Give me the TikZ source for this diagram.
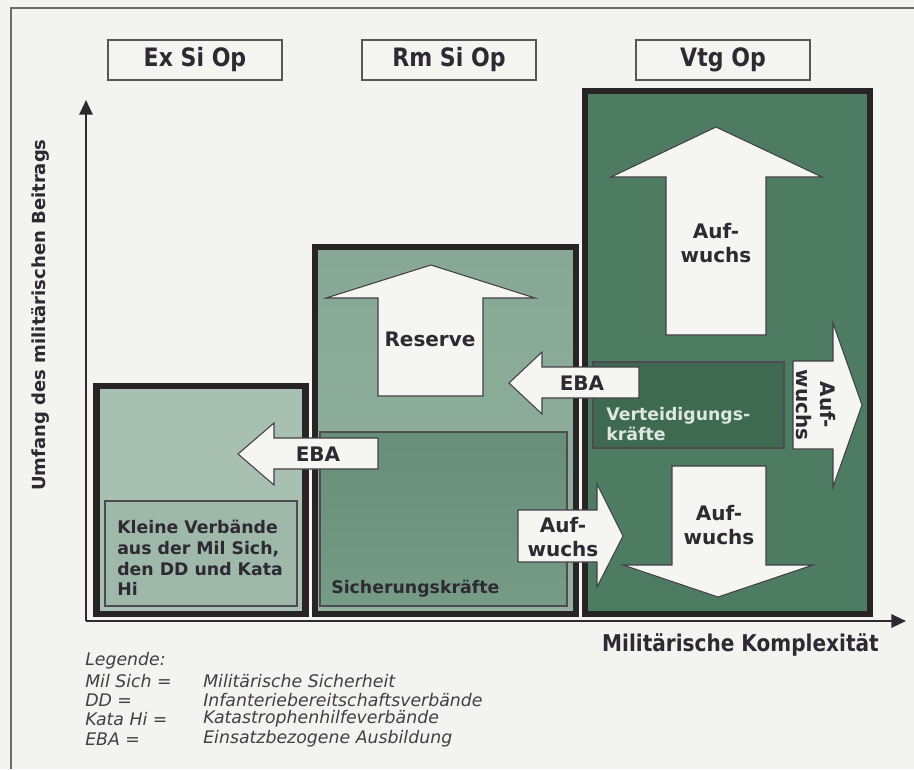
\documentclass[tikz,border=0pt]{standalone}
\usepackage{fontspec}
\setmainfont{DejaVu Sans}
\newfontfamily\headfont[FakeStretch=0.87]{DejaVu Sans}
\usepackage{tikz}
\usetikzlibrary{arrows.meta}
\definecolor{paper}{RGB}{243,243,240}
\definecolor{ink}{RGB}{46,42,50}
\definecolor{boxline}{RGB}{40,36,38}
\definecolor{sagelight}{RGB}{168,192,178}
\definecolor{sagelightin}{RGB}{158,184,169}
\definecolor{sagemid}{RGB}{134,168,148}
\definecolor{sagemidlow}{RGB}{146,177,159}
\definecolor{sagemidin}{RGB}{102,142,120}
\definecolor{sagemidinlow}{RGB}{118,155,134}
\definecolor{sagedark}{RGB}{78,124,99}
\definecolor{sagedarkin}{RGB}{62,106,82}
\definecolor{arrowwhite}{RGB}{245,245,242}
\definecolor{palegreen}{RGB}{222,231,222}

\begin{document}
\begin{tikzpicture}[x=0.75pt,y=-0.75pt,
    phasebox/.style={draw=boxline,line width=4.8pt},
    forcebox/.style={draw=ink!85,line width=0.8pt},
    blockarrow/.style={fill=arrowwhite,draw=ink!90,line width=0.8pt,line join=miter},
    headlabel/.style={draw=ink!80,line width=0.8pt,fill=arrowwhite!60!paper,minimum width=130.5pt,minimum height=30pt,inner sep=0pt,font=\headfont\fontsize{19}{21}\selectfont\bfseries,text=ink},
    arrowtext/.style={font=\fontsize{15}{17.5}\selectfont\bfseries,text=ink,align=center,inner sep=0pt},
    forcetext/.style={font=\fontsize{13}{15.5}\selectfont\bfseries,text=ink,align=left,inner sep=0pt,anchor=west},
    legendtext/.style={font=\fontsize{13}{15}\selectfont\itshape,text=ink!90,inner sep=0pt,anchor=west},
    axis/.style={draw=ink,line width=1.6pt,-{Triangle[length=11pt,width=10pt]}}
]
    \useasboundingbox (0,0) rectangle (914,769);
    \fill[paper] (0,0) rectangle (914,769);
    \draw[draw=ink!70,line width=0.8pt] (11,769) -- (11,8) -- (914,8);

    % phases
    \node[headlabel] (exsi) at (195,60) {Ex Si Op};
    \node[headlabel] (rmsi) at (449,60) {Rm Si Op};
    \node[headlabel] (vtg) at (723,60) {Vtg Op};

    \filldraw[phasebox,fill=sagelight] (96.5,386) rectangle (305.5,614);
    \draw[phasebox,top color=sagemid,bottom color=sagemidlow] (315,247) rectangle (576,614);
    \filldraw[phasebox,fill=sagedark] (585,91) rectangle (870,614);

    \filldraw[forcebox,fill=sagelightin] (105,501) rectangle (297,606);
    \draw[forcebox,top color=sagemidin,bottom color=sagemidinlow] (320,432) rectangle (567,606);
    \filldraw[forcebox,fill=sagedarkin] (593,362) rectangle (784,448);

    % axes
    \coordinate (origin) at (86,621);
    \coordinate (ytip) at (86,100);
    \coordinate (xtip) at (906,621);
    \draw[axis] (origin) -- (ytip);
    \draw[axis] (origin) -- (xtip);
    \node[font=\fontsize{13.5}{16}\selectfont\bfseries,text=ink,rotate=90] (yaxislabel) at (40,315) {Umfang des militärischen Beitrags};
    \node[font=\headfont\fontsize{17.3}{19}\selectfont\bfseries,text=ink,anchor=east,inner sep=0pt] (xaxislabel) at (879,645) {Militärische Komplexität};

    % block arrows
    \draw[blockarrow] (238,454) -- (274,423) -- (274,438) -- (378,438) -- (378,469) -- (274,469) -- (274,485) -- cycle;
    \draw[blockarrow] (509,383) -- (542,352) -- (542,367) -- (639,367) -- (639,398) -- (542,398) -- (542,414) -- cycle;
    \draw[blockarrow] (431,265) -- (535,298) -- (483,298) -- (483,396) -- (378,396) -- (378,298) -- (326,298) -- cycle;
    \draw[blockarrow] (716,127) -- (822,177) -- (766,177) -- (766,335) -- (666,335) -- (666,177) -- (611,177) -- cycle;
    \draw[blockarrow] (862,405) -- (833,487) -- (833,449) -- (793,449) -- (793,361) -- (833,361) -- (833,323) -- cycle;
    \draw[blockarrow] (623,536) -- (597,587) -- (597,562) -- (518,562) -- (518,510) -- (597,510) -- (597,484) -- cycle;
    \draw[blockarrow] (718,597) -- (623,565) -- (672,565) -- (672,466) -- (766,466) -- (766,565) -- (813,565) -- cycle;

    \node[arrowtext] (eba1) at (318,454) {EBA};
    \node[arrowtext] (eba2) at (582,383) {EBA};
    \node[arrowtext] (reserve) at (430,339) {Reserve};
    \node[arrowtext] (aufup) at (716,243) {Auf-\\wuchs};
    \node[arrowtext,rotate=-90] (aufright) at (816,405) {Auf-\\wuchs};
    \node[arrowtext] (aufmid) at (563,537) {Auf-\\wuchs};
    \node[arrowtext] (aufdown) at (719,525) {Auf-\\wuchs};

    % forces
    \node[forcetext] (kleine) at (117,558) {Kleine Verbände\\aus der Mil Sich,\\den DD und Kata\\Hi};
    \node[forcetext] (sicherung) at (331,589) {Sicherungskräfte};
    \node[forcetext,text=palegreen] (verteidigung) at (606,424) {Verteidigungs-\\kräfte};

    % legend
    \node[legendtext] (legende) at (85,661) {Legende:};
    \node[legendtext] (milsich) at (85,681) {Mil Sich =};
    \node[legendtext] (dd) at (85,700) {DD =};
    \node[legendtext] (katahi) at (85,719) {Kata Hi =};
    \node[legendtext] (eba) at (85,739) {EBA =};
    \node[legendtext] (milsichtext) at (203,681) {Militärische Sicherheit};
    \node[legendtext] (ddtext) at (203,700) {Infanteriebereitschaftsverbände};
    \node[legendtext] (katahitext) at (203,719) {Katastrophenhilfeverbände};
    \node[legendtext] (ebatext) at (203,739) {Einsatzbezogene Ausbildung};
\end{tikzpicture}
\end{document}
